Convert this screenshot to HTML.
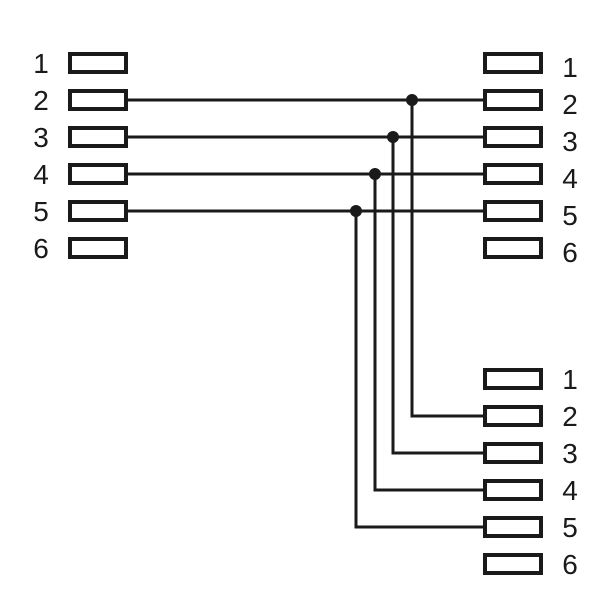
<!DOCTYPE html>
<html><head><meta charset="utf-8"><style>html,body{margin:0;padding:0;background:#fff}</style></head>
<body>
<svg width="610" height="610" viewBox="0 0 610 610" xmlns="http://www.w3.org/2000/svg" font-family="Liberation Sans, sans-serif" font-size="28" fill="#1a1a1a">
<g fill="none" stroke="#1a1a1a" stroke-width="4">
<rect x="70" y="54" width="56" height="18"/>
<rect x="70" y="91" width="56" height="18"/>
<rect x="70" y="128" width="56" height="18"/>
<rect x="70" y="165" width="56" height="18"/>
<rect x="70" y="202" width="56" height="18"/>
<rect x="70" y="239" width="56" height="18"/>
<rect x="485" y="54" width="56" height="18"/>
<rect x="485" y="91" width="56" height="18"/>
<rect x="485" y="128" width="56" height="18"/>
<rect x="485" y="165" width="56" height="18"/>
<rect x="485" y="202" width="56" height="18"/>
<rect x="485" y="239" width="56" height="18"/>
<rect x="485" y="370" width="56" height="18"/>
<rect x="485" y="407" width="56" height="18"/>
<rect x="485" y="444" width="56" height="18"/>
<rect x="485" y="481" width="56" height="18"/>
<rect x="485" y="518" width="56" height="18"/>
<rect x="485" y="555" width="56" height="18"/>
</g>
<g fill="none" stroke="#1a1a1a" stroke-width="3">
<line x1="126" y1="100" x2="485" y2="100"/>
<line x1="126" y1="137" x2="485" y2="137"/>
<line x1="126" y1="174" x2="485" y2="174"/>
<line x1="126" y1="211" x2="485" y2="211"/>
<polyline points="412,100 412,416 485,416"/>
<polyline points="393,137 393,453 485,453"/>
<polyline points="375,174 375,490 485,490"/>
<polyline points="356,211 356,527 485,527"/>
</g>
<circle cx="412" cy="100" r="6"/>
<circle cx="393" cy="137" r="6"/>
<circle cx="375" cy="174" r="6"/>
<circle cx="356" cy="211" r="6"/>
<g text-anchor="middle">
<text x="41" y="73">1</text><text x="41" y="110">2</text><text x="41" y="147">3</text>
<text x="41" y="184">4</text><text x="41" y="221">5</text><text x="41" y="258">6</text>
<text x="570" y="77">1</text><text x="570" y="114">2</text><text x="570" y="151">3</text>
<text x="570" y="188">4</text><text x="570" y="225">5</text><text x="570" y="262">6</text>
<text x="570" y="389">1</text><text x="570" y="426">2</text><text x="570" y="463">3</text>
<text x="570" y="500">4</text><text x="570" y="537">5</text><text x="570" y="574">6</text>
</g>
</svg>
</body></html>
